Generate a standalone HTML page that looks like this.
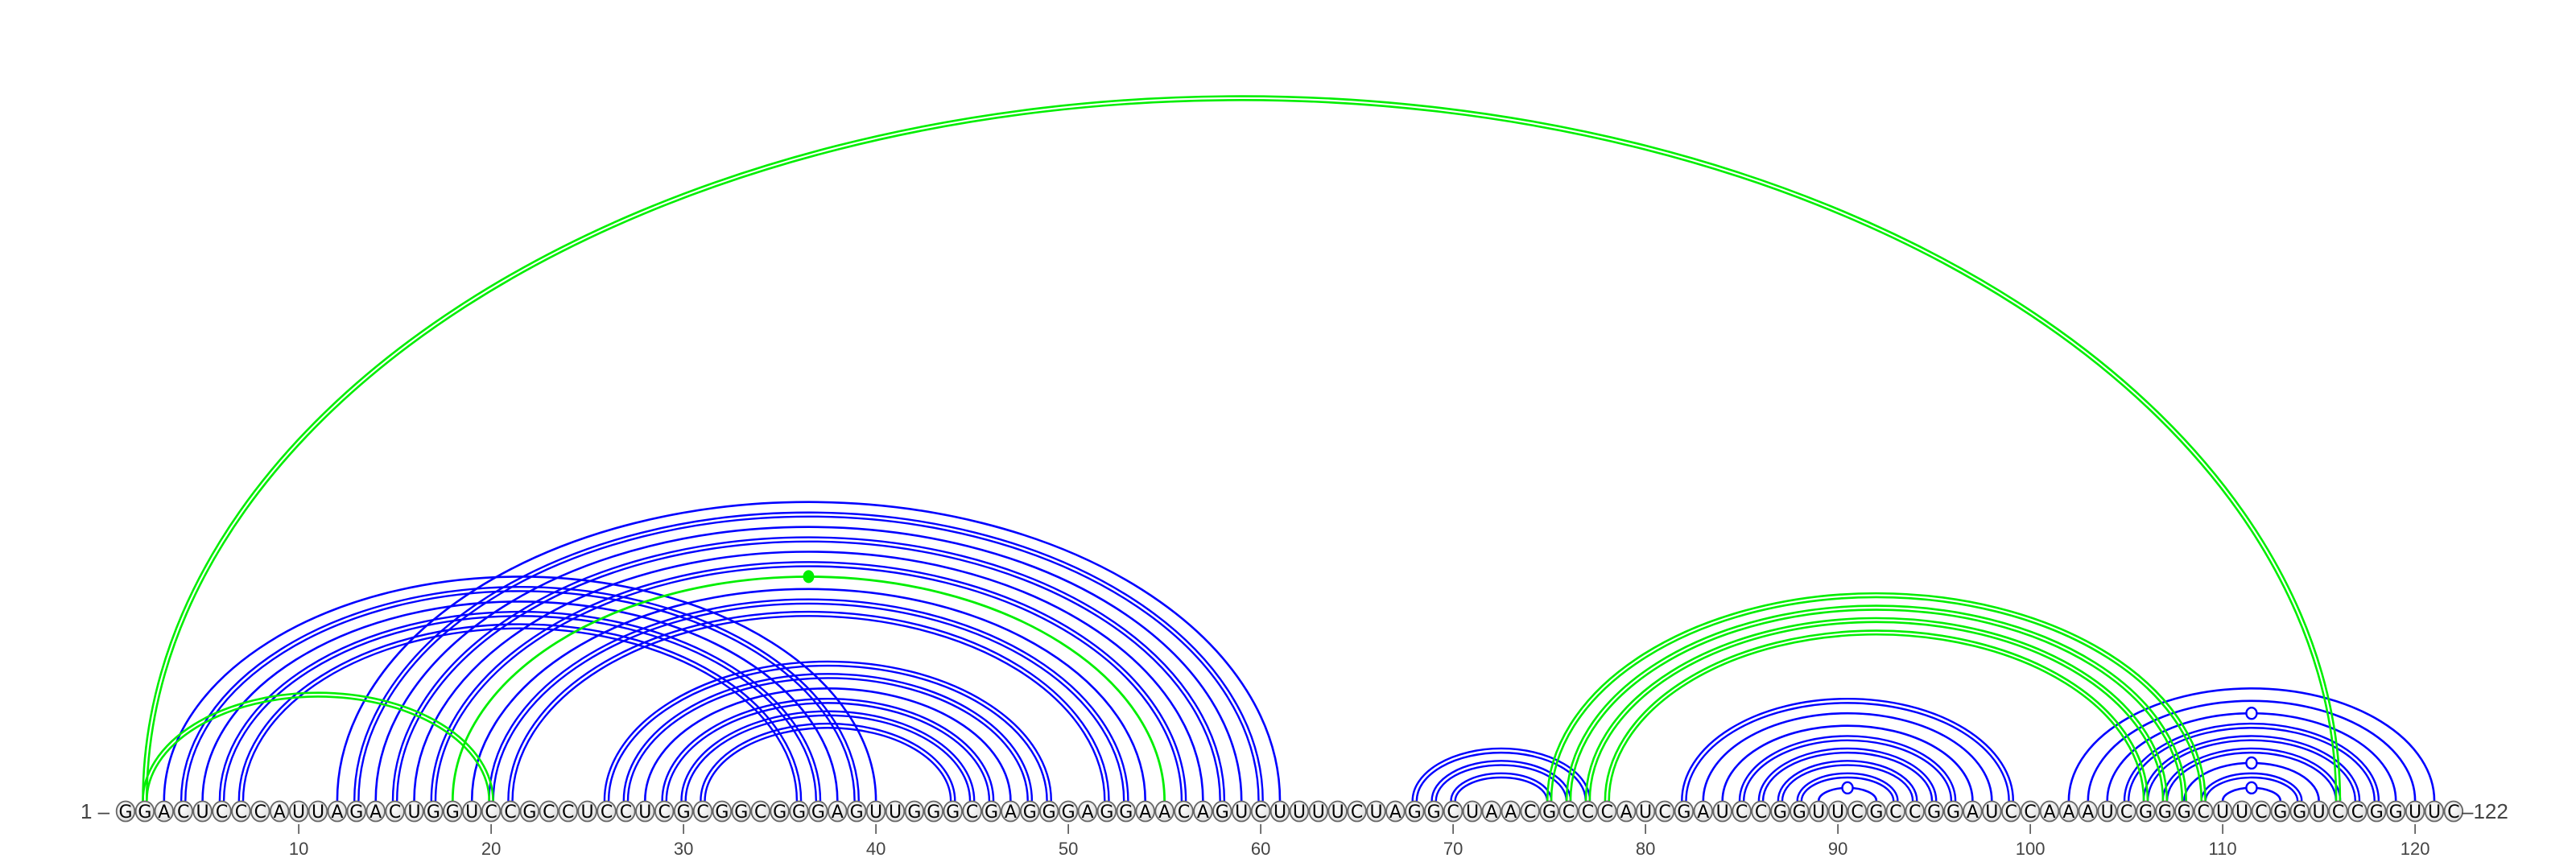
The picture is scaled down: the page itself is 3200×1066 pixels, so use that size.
<!DOCTYPE html>
<html><head><meta charset="utf-8"><style>
html,body{margin:0;padding:0;background:#fff;}
svg{display:block;}
</style></head><body>
<svg id="chart" width="3200" height="1066" viewBox="0 0 3200 1066" xmlns="http://www.w3.org/2000/svg">
<defs>
<radialGradient id="nucGrad" cx="40%" cy="35%" r="70%">
<stop offset="0%" stop-color="#ffffff"/><stop offset="100%" stop-color="#dcdcdc"/>
</radialGradient>
</defs>
<g id="arcs"></g>
<g id="markers"></g>
<g id="nucs"></g>
<g id="ticks"></g>
<text x="100" y="1017" font-family="Liberation Sans, sans-serif" font-size="26" fill="#444">1 –</text>
<text x="3058" y="1017" font-family="Liberation Sans, sans-serif" font-size="26" fill="#444">–122</text>
</svg>
<script>
const sequence = "GGACUCCCAUUAGACUGGUCCGCCUCCUCGCGGCGGGAGUUGGGCGAGGGAGGAACAGUCUUUUCUAGGCUAACGCCCAUCGAUCCGGUUCGCCGGAUCCAAAUCGGGCUUCGGUCCGGUUC";
const tickPositions = [10,20,30,40,50,60,70,80,90,100,110,120];
// blue pairs: [i, j, double?]
const bluePairs = [
 [3,40,0],[4,39,1],[5,38,0],[6,37,1],[7,36,1],
 [12,61,0],[13,60,1],[14,59,0],[15,58,1],[16,57,0],[17,56,1],[19,54,0],[20,53,1],[21,52,1],
 [26,49,1],[27,48,1],[28,47,0],[29,46,1],[30,45,1],[31,44,1],
 [68,77,1],[69,76,1],[70,75,1],
 [82,99,1],[83,98,0],[84,97,0],[85,96,1],[86,95,1],[87,94,1],[88,93,1],[89,92,0],
 [102,121,0],[103,120,0],[104,119,0],[105,118,1],[106,117,1],[107,116,1],[108,115,0],[109,114,1],[110,113,0]
];
const greenPairs = [
 [2,116,1],[2,20,1],[18,55,0],
 [75,109,1],[76,108,1],[77,107,1],[78,106,1]
];
const openMarkers = [[89,92],[104,119],[108,115],[110,113]];
const filledMarkers = [[18,55]];

const NS="http://www.w3.org/2000/svg";
const x0=156, dx=23.9, baseY=995, cy=1008;
function xPos(p){return x0+(p-1)*dx;}
function arcH(half){return Math.max(6,0.646*half-7);}
function mk(tag,attrs,parent){const e=document.createElementNS(NS,tag);for(const k in attrs)e.setAttribute(k,attrs[k]);parent.appendChild(e);return e;}
const arcsG=document.getElementById('arcs'), mG=document.getElementById('markers'), nG=document.getElementById('nucs'), tG=document.getElementById('ticks');

function drawArc(i,j,off,color,w,name){
  const a=xPos(i), b=xPos(j), half=(b-a)/2;
  const rx=half+off, ry=arcH(half)+off;
  const p=mk('path',{d:`M ${a+half-rx} ${baseY} A ${rx} ${ry} 0 0 1 ${a+half+rx} ${baseY}`,fill:'none',stroke:color,'stroke-width':w},arcsG);
  
  
}
bluePairs.forEach(([i,j,d])=>{
  if(d){drawArc(i,j,-2.6,'#0000ff',2.4,'blue-arc-'+i+'-'+j);drawArc(i,j,2.6,'#0000ff',2.4,'blue-arc-'+i+'-'+j);}
  else drawArc(i,j,0,'#0000ff',2.6,'blue-arc-'+i+'-'+j);
});
greenPairs.forEach(([i,j,d])=>{
  if(d){drawArc(i,j,-2.4,'#00ee00',2.6,'green-arc-'+i+'-'+j);drawArc(i,j,2.4,'#00ee00',2.6,'green-arc-'+i+'-'+j);}
  else drawArc(i,j,0,'#00ee00',2.8,'green-arc-'+i+'-'+j);
});
openMarkers.forEach(([i,j])=>{
  const a=xPos(i),b=xPos(j),half=(b-a)/2;
  const e=mk('ellipse',{cx:a+half,cy:baseY-arcH(half),rx:6.5,ry:7,fill:'#fff',stroke:'#0000ff','stroke-width':2.4},mG);
  
  
});
filledMarkers.forEach(([i,j])=>{
  const a=xPos(i),b=xPos(j),half=(b-a)/2;
  const e=mk('ellipse',{cx:a+half,cy:baseY-arcH(half),rx:7,ry:8,fill:'#00ee00'},mG);
  
  
});
for(let k=0;k<sequence.length;k++){
  const x=xPos(k+1);
  const g=mk('g',{},nG);
  
  
  mk('ellipse',{cx:x,cy:cy,rx:11.3,ry:12.5,fill:'url(#nucGrad)',stroke:'#666','stroke-width':1.8},g);
  mk('text',{x:x,y:cy+8,'text-anchor':'middle','font-family':'DejaVu Sans, Liberation Sans, sans-serif','font-size':22,fill:'#000'},g).textContent=sequence[k];
}
tickPositions.forEach(p=>{
  const x=xPos(p);
  const l=mk('line',{x1:x,y1:1024,x2:x,y2:1036,stroke:'#444','stroke-width':1.5},tG);
  
  
  const t=mk('text',{x:x,y:1062,'text-anchor':'middle','font-family':'Liberation Sans, sans-serif','font-size':22,fill:'#444'},tG);
  t.textContent=p;
  
  
});
</script>
</body></html>
